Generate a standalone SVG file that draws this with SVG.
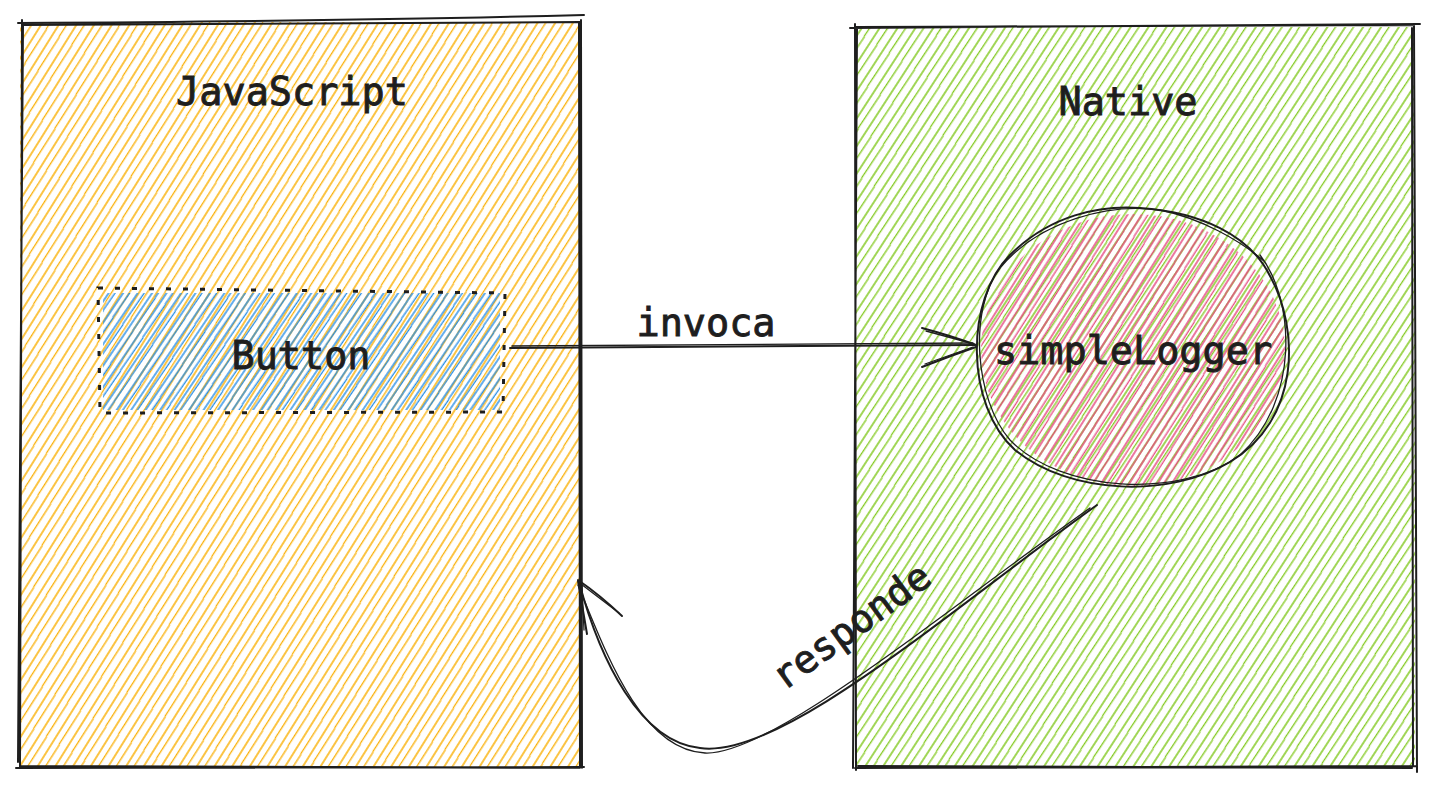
<svg xmlns="http://www.w3.org/2000/svg" width="1434" height="790" viewBox="0 0 1434 790">
<style>
.t{font-family:"DejaVu Sans Mono","Liberation Mono",monospace;font-size:38.5px;fill:#1e1e1e;stroke:#1e1e1e;stroke-width:0.9px;text-anchor:middle}
.s{fill:none;stroke:#1e1e1e;stroke-width:2;stroke-linecap:round;stroke-linejoin:round}
.s2{fill:none;stroke:#1e1e1e;stroke-width:1.3;stroke-linecap:round}
</style>
<defs>
<pattern id="hY" patternUnits="userSpaceOnUse" width="15" height="40" patternTransform="rotate(32)">
<line x1="3" y1="0" x2="3" y2="40" stroke="#fab005" stroke-width="1.5"/>
<line x1="10" y1="0" x2="9.5" y2="40" stroke="#fab005" stroke-width="1.3"/>
</pattern>
<pattern id="hG" patternUnits="userSpaceOnUse" width="15" height="40" patternTransform="rotate(33)">
<line x1="3" y1="0" x2="3" y2="40" stroke="#82c91e" stroke-width="1.5"/>
<line x1="10" y1="0" x2="9.5" y2="40" stroke="#82c91e" stroke-width="1.3"/>
</pattern>
<pattern id="hB" patternUnits="userSpaceOnUse" width="12" height="40" patternTransform="rotate(34)">
<line x1="2" y1="0" x2="2" y2="40" stroke="#228be6" stroke-width="1.4"/>
<line x1="7.5" y1="0" x2="7" y2="40" stroke="#228be6" stroke-width="1.3"/>
</pattern>
<pattern id="hP" patternUnits="userSpaceOnUse" width="12" height="40" patternTransform="rotate(32)">
<line x1="2" y1="0" x2="2" y2="40" stroke="#e64980" stroke-width="1.5"/>
<line x1="7.5" y1="0" x2="7" y2="40" stroke="#e64980" stroke-width="1.3"/>
</pattern>
</defs>
<rect width="1434" height="790" fill="#ffffff"/>

<g id="javascript">
<rect x="20" y="22" width="562" height="746" fill="url(#hY)"/>
<path class="s" d="M18,23 C200,22 400,20 584,15 M22,25 L580,22 M581,20 L582,768 M579,22 L580,766 M16,768 L584,767 M20,766 L580,768 M22,20 L20,768 M23,24 L18,762"/>
<text class="t" x="292" y="105">JavaScript</text>
</g>

<g id="native">
<rect x="855" y="27" width="560" height="741" fill="url(#hG)"/>
<path class="s" d="M850,28 L1420,24 M856,27 L1414,25 M1414,24 L1417,772 M1412,28 L1413,766 M855,768 L1416,766 M858,766 L1412,768 M855,24 L856,770 M857,27 L853,768"/>
<text class="t" x="1128" y="115">Native</text>
</g>

<g id="button">
<rect x="103" y="293" width="397" height="117" fill="url(#hB)"/>
<path d="M98,288 L505,293 L503,412 L100,413 Z" fill="none" stroke="#1e1e1e" stroke-width="3" stroke-dasharray="5 12"/>
<text class="t" x="301" y="369">Button</text>
</g>

<g id="simpleLogger">
<ellipse cx="1133" cy="350" rx="152" ry="136" fill="url(#hP)"/>
<path class="s" d="M1270,276 C1300,330 1300,420 1230,462 C1170,498 1070,495 1015,450 C965,405 965,300 1010,255 C1050,215 1100,205 1140,208 C1200,212 1250,235 1270,276"/>
<path class="s2" d="M1260,255 C1295,300 1300,400 1240,455 C1180,500 1060,492 1010,440 C975,400 968,310 1000,268 C1040,220 1110,203 1160,210 C1200,218 1240,240 1265,262"/>
<text class="t" x="1133" y="364">simpleLogger</text>
</g>

<g id="connectors">
<path class="s" d="M510,348 L975,345"/>
<path class="s2" d="M512,346 L973,343"/>
<path class="s" d="M922,328 Q952,336 976,345 M922,367 Q950,356 976,347"/>
<path class="s2" d="M926,331 L974,344 M925,364 L973,347"/>
<path class="s" d="M1097,505 C950,610 780,760 700,748 C640,742 600,660 579,582"/>
<path class="s2" d="M1090,508 C940,614 770,756 705,753 C640,750 605,650 578,585"/>
<path class="s" d="M578,580 Q600,595 622,616 M578,581 L587,634"/>
<path class="s2" d="M581,584 L619,613 M582,586 L584,630"/>
<text class="t" x="706" y="336">invoca</text>
<text class="t" transform="translate(852,627) rotate(-36)" x="0" y="12">responde</text>
</g>
</svg>
